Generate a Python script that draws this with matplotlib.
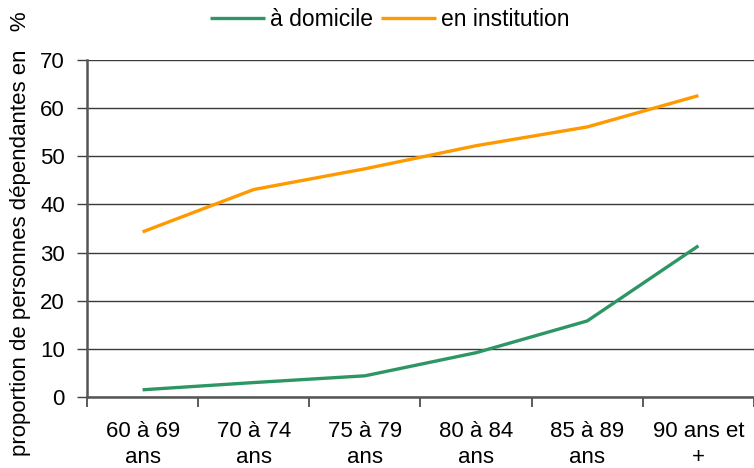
import matplotlib
matplotlib.use("Agg")
import matplotlib.pyplot as plt
import numpy as np

categories = ["60 à 69\nans", "70 à 74\nans", "75 à 79\nans", "80 à 84\nans", "85 à 89\nans", "90 ans et\n+"]
domicile = [1.5, 3.0, 4.4, 9.2, 15.8, 31.4]
institution = [34.3, 43.1, 47.4, 52.2, 56.1, 62.6]
yticks = [0, 10, 20, 30, 40, 50, 60, 70]

plt.rcParams['font.family'] = ['Liberation Sans', 'DejaVu Sans']
FS = 16

fig = plt.figure(figsize=(7.54, 4.68), dpi=100)
ax = fig.add_axes([87/754, 1-397/468, 1-87/754, (397-60)/468])

x = np.arange(len(categories))
ax.plot(x, domicile, color='#2e9664', lw=2.4, label='à domicile', solid_capstyle='butt')
ax.plot(x, institution, color='#ff9900', lw=2.4, label='en institution', solid_capstyle='butt')

ax.set_xlim(-0.5, len(categories) - 0.5)
ax.set_ylim(0, 70)
ax.set_yticks(yticks)
ax.set_yticklabels([str(v) for v in yticks], fontsize=FS)
ax.set_xticks(x)
ax.set_xticklabels(categories, fontsize=FS, linespacing=1.32)
ax.tick_params(axis='x', which='major', length=0, pad=17)
ax.set_xticks(np.arange(-0.5, len(categories) + 0.5, 1), minor=True)
ax.tick_params(axis='x', which='minor', length=7, width=1.2, color='#404040')
ax.tick_params(axis='y', length=7, width=1.0, color='#404040', pad=9)

ax.yaxis.grid(True, color='#3a3a3a', lw=1.0)
ax.set_axisbelow(True)
for s in ['top', 'right']:
    ax.spines[s].set_visible(False)
ax.spines['left'].set_color('#555555')
ax.spines['left'].set_linewidth(1.8)
ax.spines['bottom'].set_color('#555555')
ax.spines['bottom'].set_linewidth(1.8)
ax.axhline(70, color='#999999', lw=1.2, zorder=0.5)

fig.text(21/754, 1-234/468, "proportion de personnes dépendantes en   %",
         rotation=90, ha='center', va='center', fontsize=FS)

fig.legend(loc='center', bbox_to_anchor=(390/754, 1-20/468), ncol=2, frameon=False,
           fontsize=16.5, handlelength=2.4, handletextpad=0.22, columnspacing=0.36)

fig.savefig('out.png', dpi=100)
